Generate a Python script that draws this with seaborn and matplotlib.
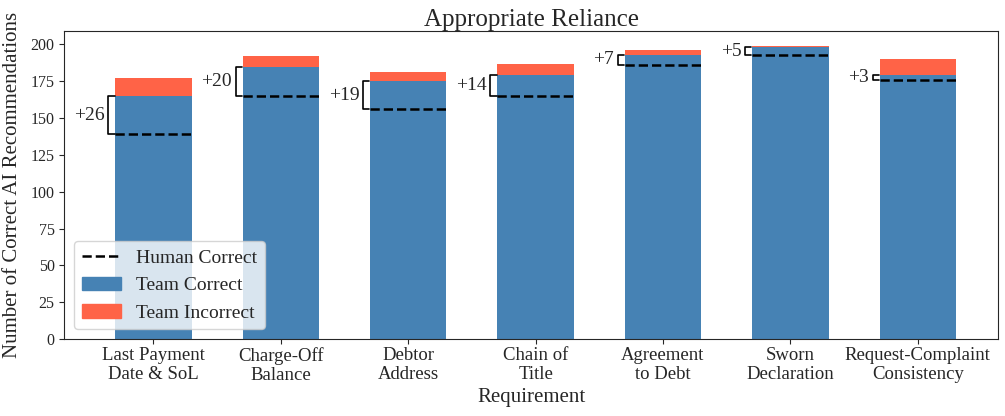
import numpy as np
import pandas as pd
import matplotlib
matplotlib.use("Agg")
import matplotlib.pyplot as plt
import seaborn as sns
from matplotlib.lines import Line2D
from matplotlib.patches import Patch

requirements = ["Last Payment\nDate & SoL", "Charge-Off\nBalance", "Debtor\nAddress",
                "Chain of\nTitle", "Agreement\nto Debt", "Sworn\nDeclaration",
                "Request-Complaint\nConsistency"]
team_correct = [165, 185, 175, 179, 193, 198, 179]
team_incorrect = [12, 7, 6, 8, 3, 1, 11]
human_correct = [139, 165, 156, 165, 186, 193, 176]

sns.set_style("ticks")
plt.rcParams["font.family"] = ["Liberation Serif", "DejaVu Serif"]

df = pd.DataFrame({
    "Requirement": requirements,
    "correct": team_correct,
    "total": np.array(team_correct) + np.array(team_incorrect),
    "human": human_correct,
})

fig, ax = plt.subplots(figsize=(10.05, 4.16), dpi=100)

sns.barplot(data=df, x="Requirement", y="total", color="tomato", saturation=1,
            width=0.6, linewidth=0, ax=ax)
sns.barplot(data=df, x="Requirement", y="correct", color="steelblue", saturation=1,
            width=0.6, linewidth=0, ax=ax)

w = 0.6
for i, row in df.iterrows():
    ax.hlines(row["human"], i - w / 2, i + w / 2, colors="black", linestyles="--", linewidth=1.8, zorder=5)
    bx = i - w / 2 - 0.055
    ax.plot([i - w / 2 - 0.005, bx, bx, i - w / 2 - 0.005],
            [row["human"], row["human"], row["correct"], row["correct"]],
            color="black", linewidth=1.2, clip_on=False)
    diff = row["correct"] - row["human"]
    ax.text(bx - 0.03, (row["human"] + row["correct"]) / 2, f"+{diff}",
            ha="right", va="center", fontsize=14)

ax.set_ylim(0, 209)
ax.set_xlim(-0.7, 6.63)
ax.set_yticks(np.arange(0, 201, 25))
ax.set_title("Appropriate Reliance", fontsize=18, pad=4)
ax.set_xlabel("Requirement", fontsize=15, labelpad=3)
ax.set_ylabel("Number of Correct AI Recommendations", fontsize=15, labelpad=6)
ax.tick_params(axis="x", labelsize=13.5, pad=2)
ax.tick_params(axis="y", labelsize=11.5)

handles = [Line2D([0], [0], color="black", linestyle="--", linewidth=1.8),
           Patch(color="steelblue"), Patch(color="tomato")]
ax.legend(handles, ["Human Correct", "Team Correct", "Team Incorrect"],
          loc="lower left", fontsize=14, framealpha=0.8)

fig.subplots_adjust(left=0.064, right=0.993, top=0.925, bottom=0.185)
plt.savefig("out.png", dpi=100)
